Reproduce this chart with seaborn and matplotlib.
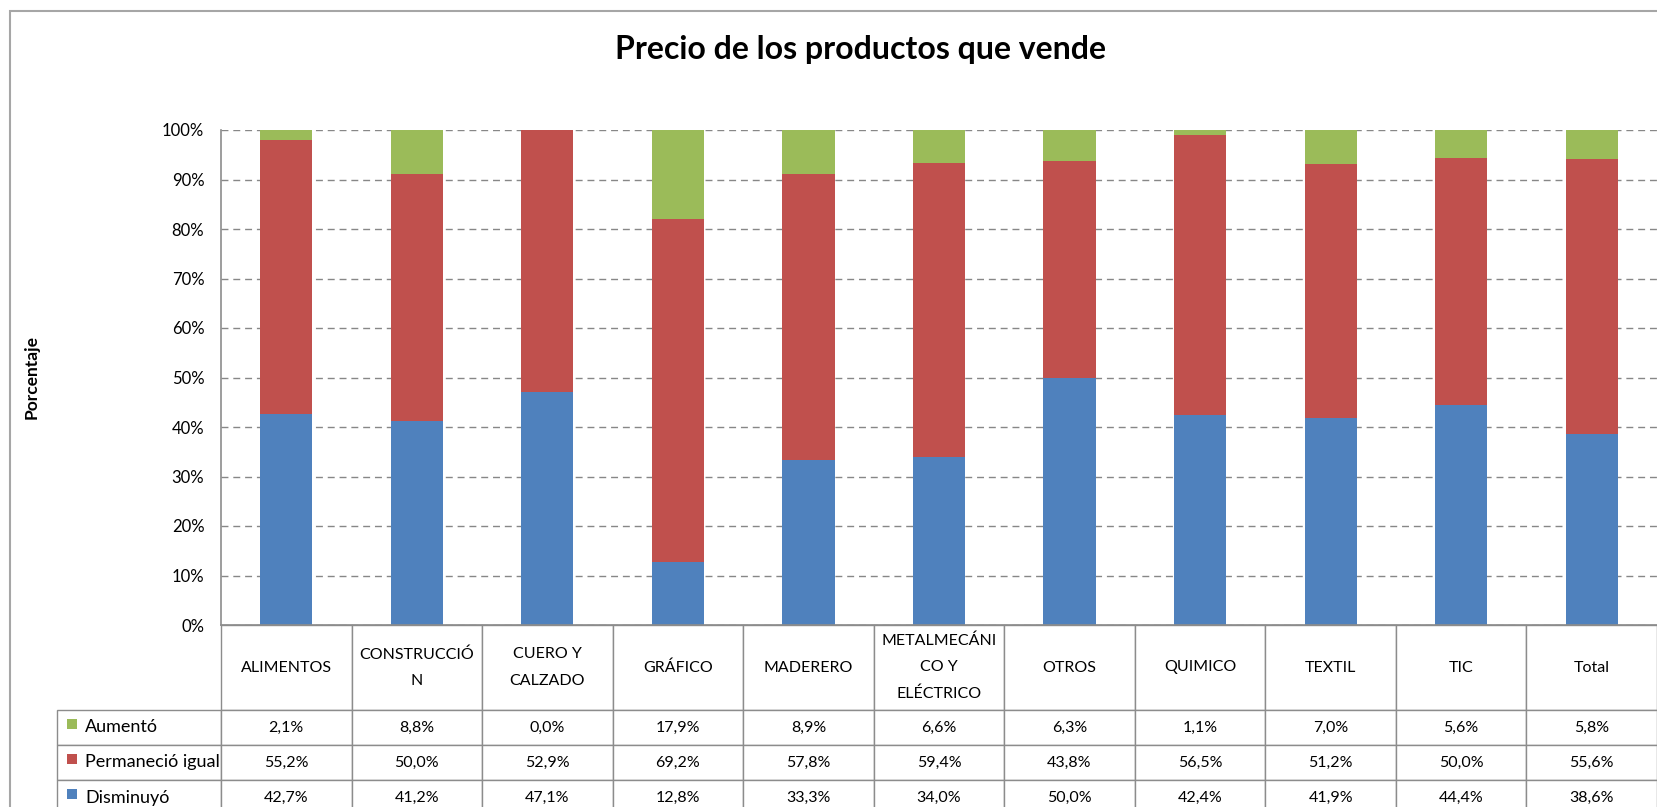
import numpy as np
import pandas as pd
import matplotlib
matplotlib.use("Agg")
import matplotlib.pyplot as plt
from matplotlib.patches import Rectangle
from matplotlib.ticker import FuncFormatter
import seaborn as sns

# ---------------- data ----------------
categories = ["ALIMENTOS", "CONSTRUCCIÓ\nN", "CUERO Y\nCALZADO", "GRÁFICO", "MADERERO",
              "METALMECÁNI\nCO Y\nELÉCTRICO", "OTROS", "QUIMICO", "TEXTIL", "TIC", "Total"]
disminuyo = [42.7, 41.2, 47.1, 12.8, 33.3, 34.0, 50.0, 42.4, 41.9, 44.4, 38.6]
permanecio = [55.2, 50.0, 52.9, 69.2, 57.8, 59.4, 43.8, 56.5, 51.2, 50.0, 55.6]
aumento = [2.1, 8.8, 0.0, 17.9, 8.9, 6.6, 6.3, 1.1, 7.0, 5.6, 5.8]
series_names = ["Aumentó", "Permaneció igual", "Disminuyó"]
y_ticks = list(range(0, 101, 10))
title = "Precio de los productos que vende"
ylabel = "Porcentaje"

# ---------------- style ----------------
C_BLUE, C_RED, C_GREEN = "#4F81BD", "#C0504D", "#9BBB59"
GRAY = "#8c8c8c"
sns.set_theme(style="white")
plt.rcParams["font.family"] = ["Lato", "DejaVu Sans"]

FW, FH = 1657, 807
fig = plt.figure(figsize=(FW / 100, FH / 100), dpi=100)

# layout in pixels
AX_L, AX_R, AX_T, AX_B = 221, 1657, 130, 625
ax = fig.add_axes([AX_L / FW, 1 - AX_B / FH, (AX_R - AX_L) / FW, (AX_B - AX_T) / FH])
axw, axh = AX_R - AX_L, AX_B - AX_T

df = pd.DataFrame({"cat": categories, "dis": disminuyo, "per": permanecio, "aum": aumento})
df["top_per"] = df["dis"] + df["per"]
df["top_aum"] = df["top_per"] + df["aum"]

for col, color in [("top_aum", C_GREEN), ("top_per", C_RED), ("dis", C_BLUE)]:
    sns.barplot(data=df, x="cat", y=col, order=categories, color=color, saturation=1,
                width=0.4, linewidth=0, errorbar=None, ax=ax)

ax.set_xlim(-0.5, len(categories) - 0.5)
ax.set_ylim(0, 100)
ax.set_yticks(y_ticks)
ax.yaxis.set_major_formatter(FuncFormatter(lambda v, p: f"{int(v)}%"))
ax.tick_params(axis="y", length=0, pad=12, labelsize=12, labelcolor="black")
ax.tick_params(axis="x", length=0, labelbottom=False)
ax.set_xlabel("")
ax.set_ylabel("")
ax.set_axisbelow(True)
ax.yaxis.grid(True, linestyle=(0, (5, 3.5)), color="#878787", linewidth=1)
for s in ["top", "right"]:
    ax.spines[s].set_visible(False)
for s in ["left", "bottom"]:
    ax.spines[s].set_color(GRAY)
    ax.spines[s].set_linewidth(1.2)

# ---------------- data table ----------------
HDR_H, ROW_H, LBL_W = 85, 35, 164
fmt = lambda v: f"{v:.1f}%".replace(".", ",")
cell_text = [[fmt(v) for v in arr] for arr in (aumento, permanecio, disminuyo)]
tab_h = (HDR_H + 3 * ROW_H) / axh
tbl = ax.table(cellText=cell_text, rowLabels=series_names, colLabels=categories,
               cellLoc="center", rowLoc="left", bbox=[0, -tab_h, 1, tab_h])
tbl._autoColumns = []          # keep the fixed width of the row-label column
tbl.auto_set_font_size(False)
tbl.set_fontsize(11.5)
ncol = len(categories)
for (r, c), cell in tbl.get_celld().items():
    cell.set_edgecolor(GRAY)
    cell.set_linewidth(1)
    cell.set_height((HDR_H if r == 0 else ROW_H) / axh)
    txt = cell.get_text()
    txt.set_color("black")
    if c == -1:
        cell.set_width(LBL_W / axw)
        cell.PAD = 0.17
        txt.set_fontsize(13)
    else:
        cell.set_width(1 / ncol)
    if r == 0:
        txt.set_linespacing(2.1)

# legend keys in the table
for i, color in enumerate([C_GREEN, C_RED, C_BLUE]):
    yc = -(HDR_H + ROW_H * (i + 0.5)) / axh
    ax.add_patch(Rectangle(((67 - AX_L) / axw, yc - 1 / axh), 10 / axw, 10 / axh,
                           transform=ax.transAxes, color=color, clip_on=False, lw=0))

# ---------------- texts & frame ----------------
fig.text(861 / FW, 1 - 50 / FH, title, ha="center", va="center", fontsize=23,
         fontweight="bold", color="black")
fig.text(32 / FW, 1 - 377 / FH, ylabel, ha="center", va="center", rotation=90,
         fontsize=12.5, fontweight="bold", color="black")
fig.add_artist(Rectangle((10 / FW, -0.1), 1.2, 1.1 - 11 / FH, transform=fig.transFigure,
                         fill=False, edgecolor="#a6a6a6", lw=1.5))

fig.savefig("out.png", dpi=100)
